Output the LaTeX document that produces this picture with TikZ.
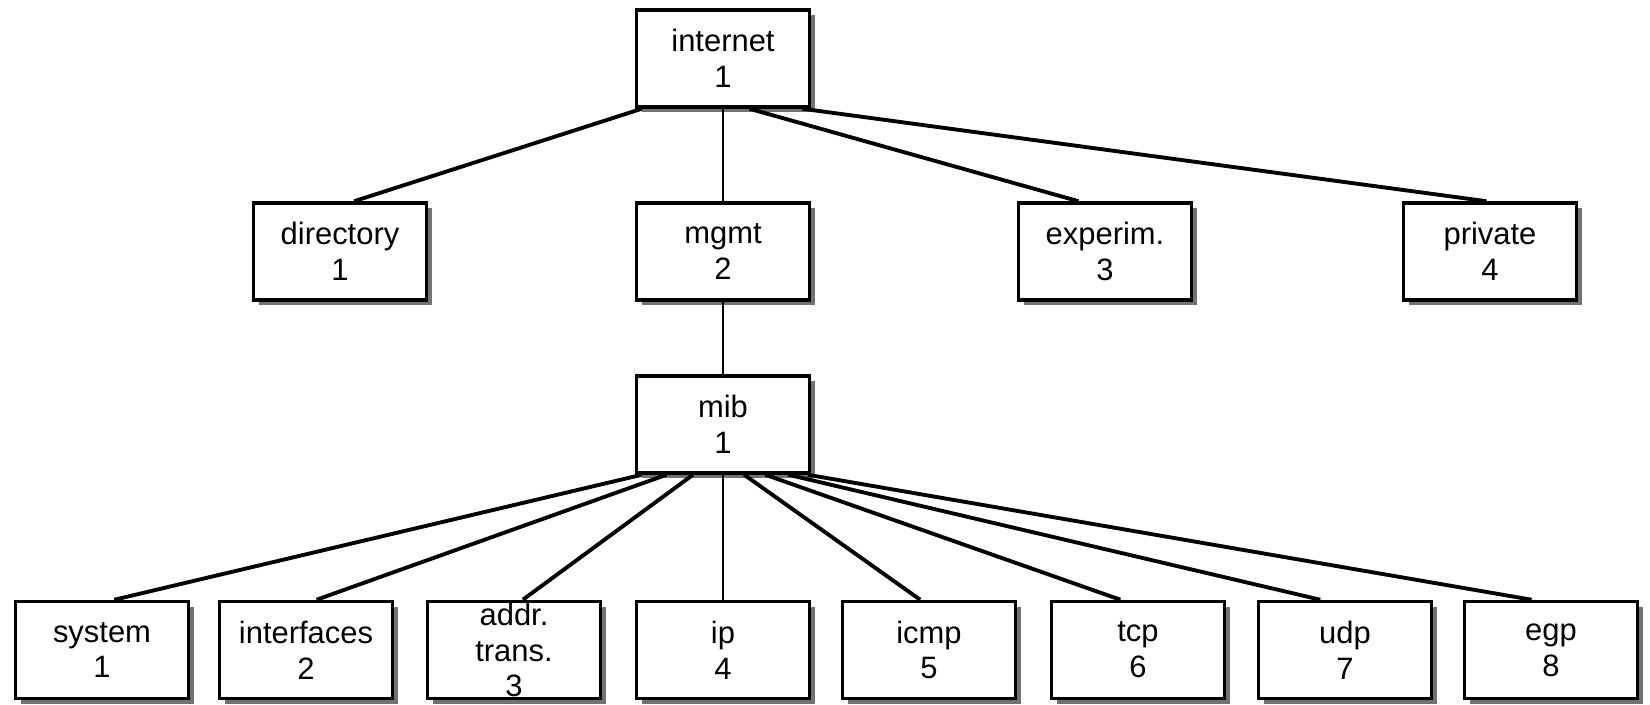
\documentclass[tikz,border=0pt]{standalone}
\usepackage{fontspec}
\setmainfont{Liberation Sans}
\usetikzlibrary{calc,shadows}
\begin{document}
\begin{tikzpicture}[every node/.style={font=\fontsize{8.8}{10.2}\selectfont},
  obj/.style={draw,line width=1pt,fill=white,align=center,minimum width=1.73cm,minimum height=0.97cm,inner sep=0pt,
    drop shadow={shadow xshift=0.55mm,shadow yshift=-0.55mm,fill=black!65,opacity=0.85}},
  link/.style={line width=1.1pt},
  vlink/.style={line width=0.6pt}]
\useasboundingbox (0,0) rectangle (16.5,-7.05);
% top
\node[obj] (inet) at (7.23,-0.585) {internet\\1};
% second row
\node[obj] (dir) at (3.40,-2.515) {directory\\1};
\node[obj] (mgmt) at (7.23,-2.515) {mgmt\\2};
\node[obj] (exper) at (11.05,-2.515) {experim.\\3};
\node[obj] (priv) at (14.90,-2.515) {private\\4};
% mib
\node[obj] (mib) at (7.23,-4.245) {mib\\1};
% mib groups
\node[obj] (sys) at (1.02,-6.50) {system\\1};
\node[obj] (ifc) at (3.06,-6.50) {interfaces\\2};
\node[obj] (addr) at (5.14,-6.50) {addr.\\trans.\\3};
\node[obj] (ip) at (7.23,-6.50) {ip\\4};
\node[obj] (icmp) at (9.29,-6.50) {icmp\\5};
\node[obj] (tcp) at (11.38,-6.50) {tcp\\6};
\node[obj] (udp) at (13.45,-6.50) {udp\\7};
\node[obj] (egp) at (15.51,-6.50) {egp\\8};
% internet links
\draw[link] ($(inet.south west)!.04!(inet.south east)$) -- ($(dir.north west)!.58!(dir.north east)$);
\draw[vlink] (inet.south) -- (mgmt.north);
\draw[link] ($(inet.south west)!.65!(inet.south east)$) -- ($(exper.north west)!.35!(exper.north east)$);
\draw[link] ($(inet.south west)!.95!(inet.south east)$) -- ($(priv.north west)!.48!(priv.north east)$);
\draw[vlink] (mgmt.south) -- (mib.north);
% mib links
\draw[link] ($(mib.south west)!.04!(mib.south east)$) -- ($(sys.north west)!.57!(sys.north east)$);
\draw[link] ($(mib.south west)!.18!(mib.south east)$) -- ($(ifc.north west)!.56!(ifc.north east)$);
\draw[link] ($(mib.south west)!.33!(mib.south east)$) -- ($(addr.north west)!.55!(addr.north east)$);
\draw[vlink] (mib.south) -- (ip.north);
\draw[link] ($(mib.south west)!.62!(mib.south east)$) -- ($(icmp.north west)!.45!(icmp.north east)$);
\draw[link] ($(mib.south west)!.74!(mib.south east)$) -- ($(tcp.north west)!.40!(tcp.north east)$);
\draw[link] ($(mib.south west)!.87!(mib.south east)$) -- ($(udp.north west)!.36!(udp.north east)$);
\draw[link] ($(mib.south west)!.98!(mib.south east)$) -- ($(egp.north west)!.39!(egp.north east)$);
\end{tikzpicture}
\end{document}
